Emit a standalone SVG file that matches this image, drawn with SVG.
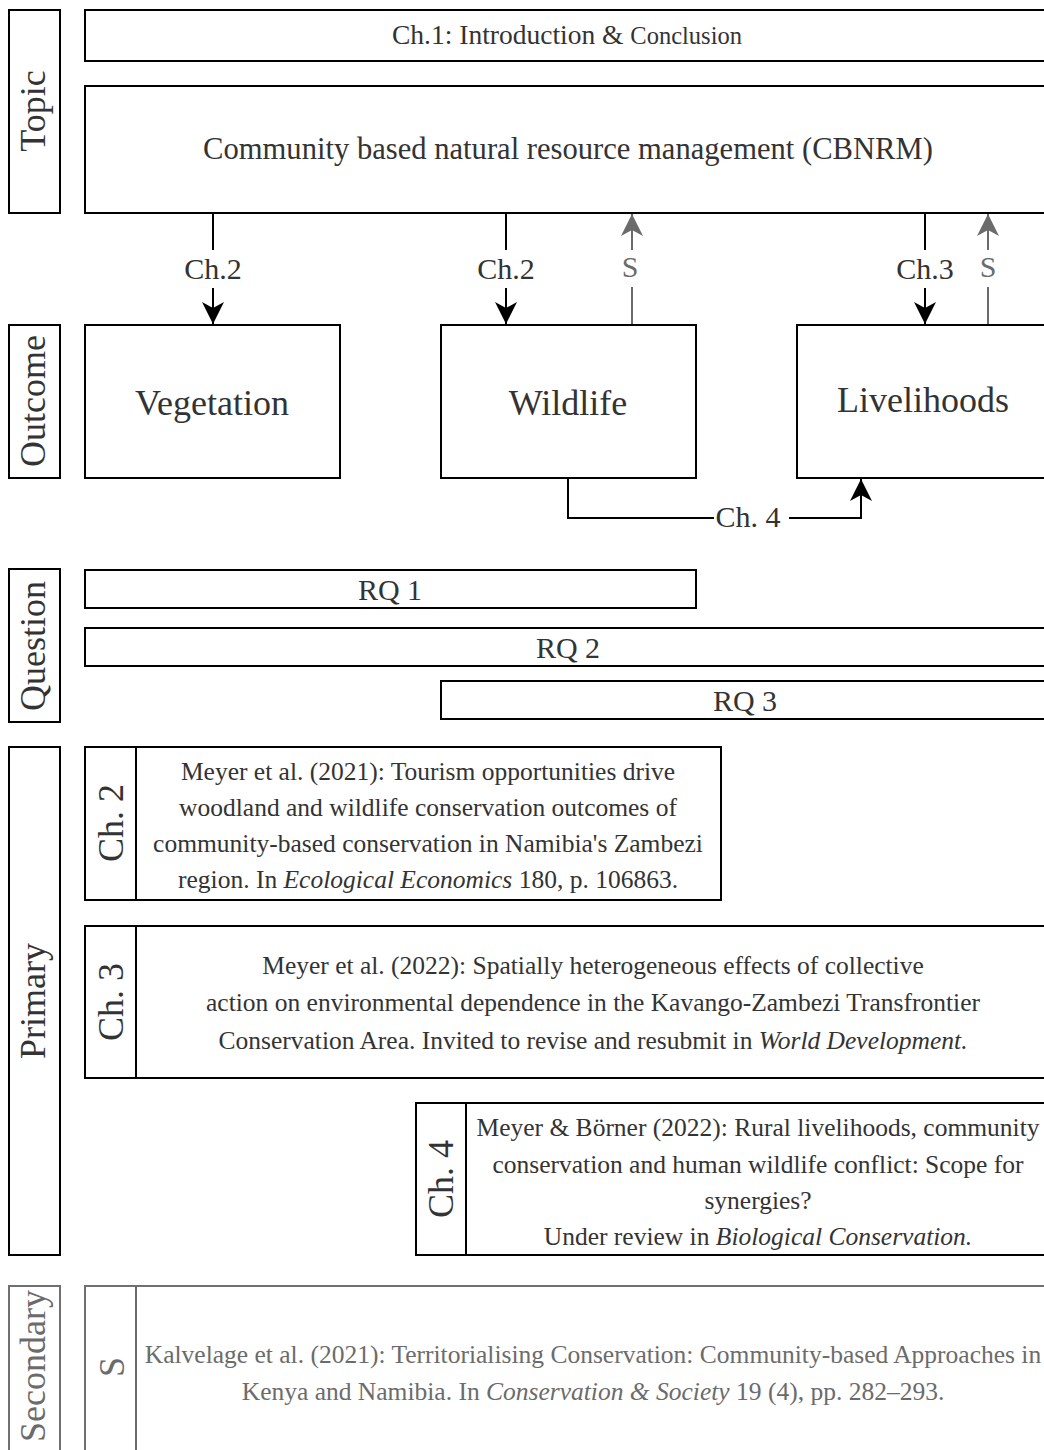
<svg xmlns="http://www.w3.org/2000/svg" width="1044" height="1450" viewBox="0 0 1044 1450">
<defs>
<style>
.box{fill:#fff;stroke:#000;stroke-width:2}
.gbox{fill:#fff;stroke:#707070;stroke-width:2}
.t{font-family:"Liberation Serif","Times New Roman",serif;fill:#333}
.g{fill:#6b6b6b}
.side{font-size:36px;text-anchor:middle}
.cite{font-size:25.5px;text-anchor:middle}
.lbl{font-size:30px;text-anchor:middle}
.big{font-size:36px;text-anchor:middle}
.ln{stroke:#000;stroke-width:2;fill:none}
.gln{stroke:#6b6b6b;stroke-width:2;fill:none}
.i{font-style:italic}
</style>
<marker id="ab" markerUnits="userSpaceOnUse" markerWidth="22" markerHeight="22" viewBox="0 0 22 22" refX="22" refY="11" orient="auto">
<path d="M0,0 L22,11 L0,22 L6,11 Z" fill="#000"/>
</marker>
<marker id="ag" markerUnits="userSpaceOnUse" markerWidth="22" markerHeight="22" viewBox="0 0 22 22" refX="22" refY="11" orient="auto">
<path d="M0,0 L22,11 L0,22 L6,11 Z" fill="#6b6b6b"/>
</marker>
</defs>
<rect width="1044" height="1450" fill="#fff"/>

<g id="label-topic"><rect class="box" x="9" y="10" width="51" height="203"/><text class="t side" transform="translate(45,111) rotate(-90)">Topic</text></g>
<g id="label-outcome"><rect class="box" x="9" y="325" width="51" height="153"/><text class="t side" transform="translate(45,401) rotate(-90)">Outcome</text></g>
<g id="label-question"><rect class="box" x="9" y="569" width="51" height="153"/><text class="t side" transform="translate(45,646) rotate(-90)">Question</text></g>
<g id="label-primary"><rect class="box" x="9" y="747" width="51" height="508"/><text class="t side" transform="translate(45,1001) rotate(-90)">Primary</text></g>
<g id="label-secondary"><rect class="gbox" x="9" y="1286" width="51" height="180"/><text class="t side g" transform="translate(45,1366) rotate(-90)">Secondary</text></g>

<g id="ch1"><rect class="box" x="85" y="10" width="966" height="51"/><text class="t" x="567" y="44" text-anchor="middle" font-size="27.5">Ch.1: Introduction &amp; <tspan font-size="24.5">Conclusion</tspan></text></g>
<g id="cbnrm"><rect class="box" x="85" y="86" width="966" height="127"/><text class="t" x="568" y="159" text-anchor="middle" font-size="30.6">Community based natural resource management (CBNRM)</text></g>

<g id="vegetation"><rect class="box" x="85" y="325" width="255" height="153"/><text class="t big" x="212" y="415">Vegetation</text></g>
<g id="wildlife"><rect class="box" x="441" y="325" width="255" height="153"/><text class="t big" x="568" y="415">Wildlife</text></g>
<g id="livelihoods"><rect class="box" x="797" y="325" width="260" height="153"/><text class="t big" x="923" y="412">Livelihoods</text></g>

<g id="rq1"><rect class="box" x="85" y="570" width="611" height="38"/><text class="t lbl" x="390" y="600">RQ 1</text></g>
<g id="rq2"><rect class="box" x="85" y="628" width="966" height="38"/><text class="t lbl" x="568" y="658">RQ 2</text></g>
<g id="rq3"><rect class="box" x="441" y="681" width="610" height="38"/><text class="t lbl" x="745" y="711">RQ 3</text></g>

<g id="paper-ch2"><rect class="box" x="85" y="747" width="636" height="153"/><line class="ln" x1="136" y1="747" x2="136" y2="900"/>
<text class="t side" transform="translate(123,823) rotate(-90)">Ch. 2</text>
<text class="t cite" x="428" y="780">Meyer et al. (2021): Tourism opportunities drive</text>
<text class="t cite" x="428" y="816">woodland and wildlife conservation outcomes of</text>
<text class="t cite" x="428" y="852">community-based conservation in Namibia's Zambezi</text>
<text class="t cite" x="428" y="888">region. In <tspan class="i">Ecological Economics</tspan> 180, p. 106863.</text></g>

<g id="paper-ch3"><rect class="box" x="85" y="926" width="966" height="152"/><line class="ln" x1="136" y1="926" x2="136" y2="1078"/>
<text class="t side" transform="translate(123,1002) rotate(-90)">Ch. 3</text>
<text class="t cite" x="593" y="974">Meyer et al. (2022): Spatially heterogeneous effects of collective</text>
<text class="t cite" x="593" y="1011">action on environmental dependence in the Kavango-Zambezi Transfrontier</text>
<text class="t cite" x="593" y="1049">Conservation Area. Invited to revise and resubmit in <tspan class="i">World Development.</tspan></text></g>

<g id="paper-ch4"><rect class="box" x="416" y="1103" width="635" height="152"/><line class="ln" x1="466" y1="1103" x2="466" y2="1255"/>
<text class="t side" transform="translate(453,1179) rotate(-90)">Ch. 4</text>
<text class="t cite" x="758" y="1136">Meyer &amp; Börner (2022): Rural livelihoods, community</text>
<text class="t cite" x="758" y="1173">conservation and human wildlife conflict: Scope for</text>
<text class="t cite" x="758" y="1209">synergies?</text>
<text class="t cite" x="758" y="1245">Under review in <tspan class="i">Biological Conservation.</tspan></text></g>

<g id="paper-s"><rect class="gbox" x="85" y="1286" width="966" height="180"/><line class="gln" x1="136" y1="1286" x2="136" y2="1466"/>
<text class="t side g" transform="translate(124,1367) rotate(-90)">S</text>
<text class="t cite g" x="593" y="1363">Kalvelage et al. (2021): Territorialising Conservation: Community-based Approaches in</text>
<text class="t cite g" x="593" y="1400">Kenya and Namibia. In <tspan class="i">Conservation &amp; Society</tspan> 19 (4), pp. 282–293.</text></g>

<g id="connectors">
<line class="ln" x1="213" y1="214" x2="213" y2="250"/>
<line class="ln" x1="213" y1="288" x2="213" y2="324" marker-end="url(#ab)"/>
<text class="t lbl" x="213" y="279">Ch.2</text>
<line class="ln" x1="506" y1="214" x2="506" y2="250"/>
<line class="ln" x1="506" y1="288" x2="506" y2="324" marker-end="url(#ab)"/>
<text class="t lbl" x="506" y="279">Ch.2</text>
<line class="gln" x1="632" y1="324" x2="632" y2="287"/>
<line class="gln" x1="632" y1="250" x2="632" y2="214" marker-end="url(#ag)"/>
<text class="t lbl g" x="630" y="277">S</text>
<line class="ln" x1="925" y1="214" x2="925" y2="250"/>
<line class="ln" x1="925" y1="288" x2="925" y2="324" marker-end="url(#ab)"/>
<text class="t lbl" x="925" y="279">Ch.3</text>
<line class="gln" x1="988" y1="324" x2="988" y2="287"/>
<line class="gln" x1="988" y1="250" x2="988" y2="214" marker-end="url(#ag)"/>
<text class="t lbl g" x="988" y="277">S</text>
<path class="ln" d="M568,479 V518 H714"/>
<path class="ln" d="M789,518 H861 V479" marker-end="url(#ab)"/>
<text class="t lbl" x="748" y="527">Ch. 4</text>
</g>
</svg>
